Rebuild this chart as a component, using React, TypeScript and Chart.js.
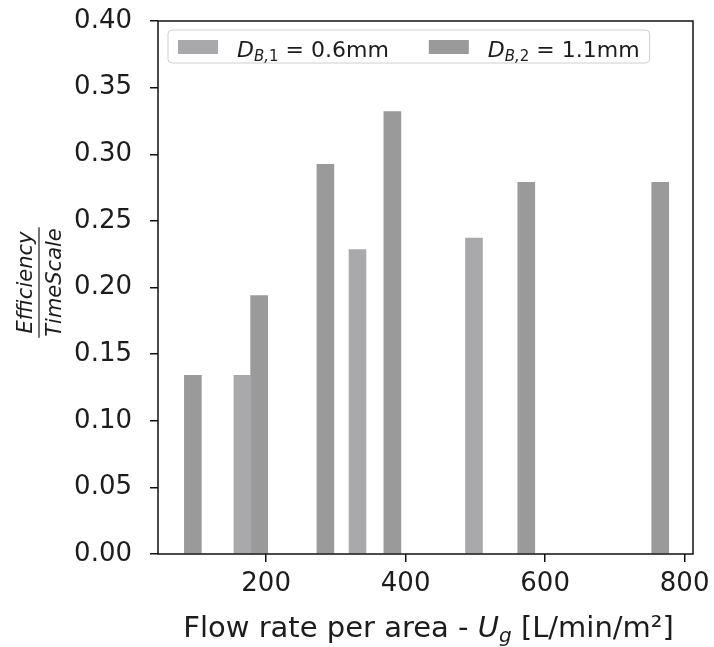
import React, { useEffect, useRef } from "react";
import { Chart, registerables } from "chart.js";

Chart.register(...registerables);

// ---- data ----
const flowRate06 = [166, 331, 498];
const efficiency06 = [0.134, 0.2285, 0.237];
const flowRate11 = [95, 190, 285, 381, 573, 765];
const efficiency11 = [0.134, 0.194, 0.2925, 0.332, 0.279, 0.279];
const xTickValues = [200, 400, 600, 800];
const yTickValues = [0, 0.05, 0.1, 0.15, 0.2, 0.25, 0.3, 0.35, 0.4];
const seriesSubscripts = ["B,1", "B,2"];
const seriesDiameters = ["0.6mm", "1.1mm"];
const xTitleParts = ["Flow rate per area - ", "U", "g", " [L/min/m²]"];
const yTitleParts = ["Efficiency", "TimeScale"];

const FAMILY = "'DejaVu Sans', sans-serif";
const TEXT = "#1c1c1c";
const COLORS = ["#a9a9ab", "#9a9a9a"];

type Part = { text: string; font: string; dy: number };

function drawParts(ctx: CanvasRenderingContext2D, x: number, y: number, parts: Part[]) {
  let cx = x;
  for (const p of parts) {
    ctx.font = p.font;
    ctx.fillText(p.text, cx, y + p.dy);
    cx += ctx.measureText(p.text).width;
  }
  return cx;
}

function partsWidth(ctx: CanvasRenderingContext2D, parts: Part[]) {
  let w = 0;
  for (const p of parts) {
    ctx.font = p.font;
    w += ctx.measureText(p.text).width;
  }
  return w;
}

function legendParts(i: number): Part[] {
  const sub = seriesSubscripts[i];
  const comma = sub.indexOf(",");
  return [
    { text: "D", font: `italic 22px ${FAMILY}`, dy: 0 },
    { text: sub.slice(0, comma + 1), font: `italic 15px ${FAMILY}`, dy: 4 },
    { text: sub.slice(comma + 1), font: `15px ${FAMILY}`, dy: 4 },
    { text: " = " + seriesDiameters[i], font: `22px ${FAMILY}`, dy: 0 },
  ];
}

const overlay = {
  id: "overlay",
  afterDraw(chart: any) {
    const { ctx, chartArea: a } = chart;
    ctx.save();
    // frame
    ctx.strokeStyle = "#111";
    ctx.lineWidth = 1.5;
    ctx.strokeRect(a.left, a.top, a.right - a.left, a.bottom - a.top);

    // legend
    ctx.textBaseline = "alphabetic";
    ctx.textAlign = "left";
    const boxX = a.left + 10;
    const boxY = a.top + 9;
    const boxH = 33;
    const patchW = 40;
    const patchH = 14;
    const baseY = boxY + 26.5;
    let px = boxX + 10;
    const items: { px: number; tx: number; parts: Part[] }[] = [];
    for (let i = 0; i < seriesSubscripts.length; i++) {
      const parts = legendParts(i);
      const tx = px + patchW + 19;
      const w = partsWidth(ctx, parts);
      items.push({ px, tx, parts });
      px = tx + w + 40;
    }
    const last = items[items.length - 1];
    const boxW = last.tx + partsWidth(ctx, last.parts) + 10 - boxX;
    ctx.fillStyle = "rgba(255,255,255,0.85)";
    ctx.strokeStyle = "#cfcfcf";
    ctx.lineWidth = 1;
    ctx.beginPath();
    (ctx as any).roundRect(boxX, boxY, boxW, boxH, 4);
    ctx.fill();
    ctx.stroke();
    items.forEach((it, i) => {
      ctx.fillStyle = COLORS[i];
      ctx.fillRect(it.px, boxY + 10, patchW, patchH);
      ctx.fillStyle = TEXT;
      drawParts(ctx, it.tx, baseY, it.parts);
    });

    // x title
    const xParts: Part[] = [
      { text: xTitleParts[0], font: `29px ${FAMILY}`, dy: 0 },
      { text: xTitleParts[1], font: `italic 29px ${FAMILY}`, dy: 0 },
      { text: xTitleParts[2], font: `italic 20px ${FAMILY}`, dy: 5 },
      { text: xTitleParts[3], font: `29px ${FAMILY}`, dy: 0 },
    ];
    const xw = partsWidth(ctx, xParts);
    const xc = (a.left + a.right) / 2 + 3;
    ctx.fillStyle = TEXT;
    drawParts(ctx, xc - xw / 2, a.bottom + 83, xParts);

    // y title (fraction)
    ctx.save();
    ctx.translate(39, (a.top + a.bottom) / 2 - 5);
    ctx.rotate(-Math.PI / 2);
    ctx.font = `italic 21px ${FAMILY}`;
    ctx.textAlign = "center";
    const w1 = ctx.measureText(yTitleParts[0]).width;
    const w2 = ctx.measureText(yTitleParts[1]).width;
    const lw = Math.max(w1, w2) + 2;
    ctx.fillText(yTitleParts[0], 0, -7);
    ctx.fillText(yTitleParts[1], 0, 22);
    ctx.strokeStyle = TEXT;
    ctx.lineWidth = 1.2;
    ctx.beginPath();
    ctx.moveTo(-lw / 2, 0);
    ctx.lineTo(lw / 2, 0);
    ctx.stroke();
    ctx.restore();

    ctx.restore();
  },
};

export default function App() {
  const ref = useRef<HTMLCanvasElement | null>(null);
  useEffect(() => {
    if (!ref.current) return;
    const chart = new Chart(ref.current, {
      type: "bar",
      data: {
        datasets: [
          {
            label: "D_B,1 = 0.6mm",
            data: flowRate06.map((x, i) => ({ x, y: efficiency06[i] })),
            backgroundColor: COLORS[0],
            barThickness: 17,
            grouped: false,
          } as any,
          {
            label: "D_B,2 = 1.1mm",
            data: flowRate11.map((x, i) => ({ x, y: efficiency11[i] })),
            backgroundColor: COLORS[1],
            barThickness: 17,
            grouped: false,
          } as any,
        ],
      },
      options: {
        animation: false,
        responsive: true,
        maintainAspectRatio: false,
        layout: { padding: { top: 21, right: 21, left: 0, bottom: 0 } },
        plugins: { legend: { display: false }, tooltip: { enabled: false } },
        scales: {
          x: {
            type: "linear",
            offset: false,
            min: 45,
            max: 812,
            afterBuildTicks: (s: any) => {
              s.ticks = xTickValues.map((v) => ({ value: v }));
            },
            afterFit: (s: any) => {
              s.height = 93;
              s.paddingLeft = 0;
              s.paddingRight = 0;
            },
            grid: {
              offset: false,
              drawOnChartArea: false,
              drawTicks: true,
              tickLength: 8,
              color: "#111",
              lineWidth: 1.5,
            },
            border: { display: false },
            ticks: {
              font: { family: FAMILY, size: 26 },
              color: TEXT,
              padding: 7,
              maxRotation: 0,
              autoSkip: false,
              callback: (v: any) => String(v),
            },
          },
          y: {
            type: "linear",
            min: 0,
            max: 0.4,
            afterBuildTicks: (s: any) => {
              s.ticks = yTickValues.map((v) => ({ value: v }));
            },
            afterFit: (s: any) => {
              s.width = 158;
              s.paddingTop = 0;
              s.paddingBottom = 0;
            },
            grid: {
              drawOnChartArea: false,
              drawTicks: true,
              tickLength: 8,
              color: "#111",
              lineWidth: 1.5,
            },
            border: { display: false },
            ticks: {
              font: { family: FAMILY, size: 26 },
              color: TEXT,
              padding: 18,
              autoSkip: false,
              callback: (v: any) => Number(v).toFixed(2),
            },
          },
        },
      } as any,
      plugins: [overlay],
    });
    return () => chart.destroy();
  }, []);
  return (
    <div style={{ position: "fixed", left: 0, top: 0, width: 714, height: 647, background: "#fff" }}>
      <canvas ref={ref} />
    </div>
  );
}
